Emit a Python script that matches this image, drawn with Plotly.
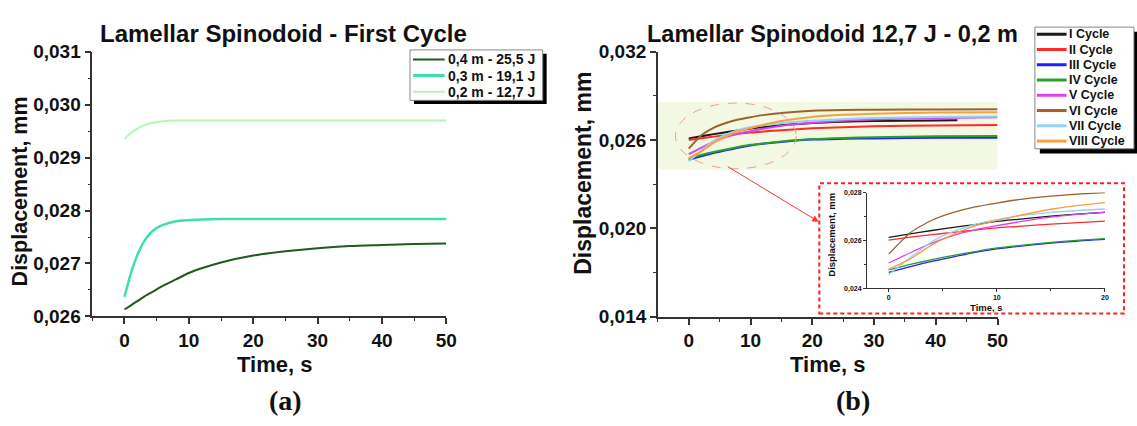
import plotly.graph_objects as go

W, H = 1137, 426

# ---------------- Panel (a): first cycle ----------------
TIME_A = [0, 1, 2, 3, 4, 5, 6, 8, 10, 12, 15, 20, 25, 30, 35, 40, 45, 50]
DISP_04M = [0.02613, 0.02621, 0.02629, 0.02637, 0.02644, 0.02651, 0.02658, 0.02670, 0.02682,
            0.02691, 0.02702, 0.02715, 0.02723, 0.02729, 0.02733, 0.02735, 0.02737, 0.02738]
DISP_03M = [0.02637, 0.02682, 0.02716, 0.02741, 0.02757, 0.02767, 0.02773, 0.02780, 0.02782,
            0.02783, 0.02784, 0.02784, 0.02784, 0.02784, 0.02784, 0.02784, 0.02784, 0.02784]
DISP_02M = [0.02935, 0.02947, 0.02955, 0.02961, 0.02965, 0.02967, 0.02969, 0.02970, 0.02970,
            0.02970, 0.02970, 0.02970, 0.02970, 0.02970, 0.02970, 0.02970, 0.02970, 0.02970]
NAMES_A = ["0,4 m - 25,5 J", "0,3 m - 19,1 J", "0,2 m - 12,7 J"]
COLORS_A = ["#1e5a1e", "#3fe0a5", "#b5f5b5"]

# ---------------- Panel (b): cycles at 12,7 J - 0,2 m ----------------
TIME_B = [0, 2, 4, 6, 8, 10, 12, 15, 20, 25, 30, 40, 50]
TIME_B_I = [0, 2, 4, 6, 8, 10, 12, 15, 20, 25, 30, 40, 43.5]
CYC_I = [0.02612, 0.02627, 0.02641, 0.02654, 0.02666, 0.02679, 0.02688, 0.02701, 0.02717, 0.02725, 0.02730, 0.02734, 0.02735]
CYC_II = [0.02601, 0.02613, 0.02624, 0.02633, 0.02643, 0.02652, 0.02658, 0.02668, 0.02680, 0.02688, 0.02694, 0.02700, 0.02703]
CYC_III = [0.02466, 0.02490, 0.02512, 0.02531, 0.02549, 0.02564, 0.02575, 0.02588, 0.02604, 0.02609, 0.02612, 0.02616, 0.02617]
CYC_IV = [0.02476, 0.02499, 0.02519, 0.02537, 0.02553, 0.02568, 0.02578, 0.02591, 0.02607, 0.02615, 0.02620, 0.02626, 0.02628]
CYC_V = [0.02505, 0.02548, 0.02588, 0.02621, 0.02644, 0.02661, 0.02677, 0.02697, 0.02718, 0.02732, 0.02741, 0.02751, 0.02755]
CYC_VI = [0.02542, 0.02632, 0.02684, 0.02717, 0.02740, 0.02756, 0.02770, 0.02785, 0.02800, 0.02805, 0.02807, 0.02809, 0.02810]
CYC_VII = [0.02456, 0.02528, 0.02594, 0.02637, 0.02667, 0.02687, 0.02702, 0.02717, 0.02731, 0.02742, 0.02750, 0.02757, 0.02760]
CYC_VIII = [0.02478, 0.02522, 0.02581, 0.02625, 0.02660, 0.02682, 0.02703, 0.02730, 0.02758, 0.02772, 0.02780, 0.02787, 0.02790]
NAMES_B = ["I Cycle", "II Cycle", "III Cycle", "IV Cycle", "V Cycle", "VI Cycle", "VII Cycle", "VIII Cycle"]
COLORS_B = ["#1a1a1a", "#ff2a2a", "#1f1fff", "#2aa02a", "#e040f0", "#a0602c", "#90d4f5", "#f8a040"]

FONT = "Liberation Sans, Arial, sans-serif"
SERIF = "Liberation Serif, Times New Roman, serif"
INK = "#111111"
AX = "#333333"


def px(x):
    return x / W


def py(y):
    return 1 - y / H


fig = go.Figure()

# panel (a) traces
for t, y, c, w in zip([TIME_A] * 3, [DISP_04M, DISP_03M, DISP_02M], COLORS_A, [2, 2.5, 2]):
    fig.add_trace(go.Scatter(x=t, y=y, mode="lines", xaxis="x", yaxis="y", showlegend=False,
                             hoverinfo="skip",
                             line=dict(color=c, width=w, shape="spline", smoothing=0.6)))

cyc_times = [TIME_B_I] + [TIME_B] * 7
cyc_vals = [CYC_I, CYC_II, CYC_III, CYC_IV, CYC_V, CYC_VI, CYC_VII, CYC_VIII]
# panel (b) main traces
for t, y, c in zip(cyc_times, cyc_vals, COLORS_B):
    fig.add_trace(go.Scatter(x=t, y=y, mode="lines", xaxis="x2", yaxis="y2", showlegend=False,
                             hoverinfo="skip",
                             line=dict(color=c, width=2, shape="spline", smoothing=0.6)))
# panel (b) inset traces
for t, y, c in zip(cyc_times, cyc_vals, COLORS_B):
    fig.add_trace(go.Scatter(x=t, y=y, mode="lines", xaxis="x3", yaxis="y3", showlegend=False,
                             hoverinfo="skip",
                             line=dict(color=c, width=1.3, shape="spline", smoothing=0.6)))


def axis(domain, anchor, rng, dtick, minor_dtick, tick0, fsize=19, lw=1.5, tlen=6, fmt=None):
    d = dict(domain=domain, anchor=anchor, range=rng, showline=True, linecolor=AX, linewidth=lw,
             ticks="outside", ticklen=tlen, tickwidth=lw, tickcolor=AX, showgrid=False,
             zeroline=False, tick0=tick0, dtick=dtick, tickmode="linear",
             tickfont=dict(family=FONT, size=fsize, color=INK, weight="bold"),
             minor=dict(ticks="outside", ticklen=max(2, tlen // 2), tickwidth=1, tickcolor=AX,
                        dtick=minor_dtick, tick0=tick0, showgrid=False))
    if fmt:
        d["tickformat"] = fmt
    return d


fig.update_layout(
    width=W, height=H, margin=dict(l=0, r=0, t=0, b=0),
    paper_bgcolor="white", plot_bgcolor="rgba(0,0,0,0)",
    separators=", ", showlegend=False,
    xaxis=axis([px(93.2), px(450.7)], "y", [-5, 50], 10, 5, 0),
    yaxis=axis([py(322.3), py(44)], "x", [0.026, 0.031], 0.001, 0.0005, 0.026, fmt=".3f"),
    xaxis2=axis([px(664.3), px(1007.3)], "y2", [-5, 50], 10, 5, 0),
    yaxis2=axis([py(322.7), py(44)], "x2", [0.014, 0.032], 0.006, 0.003, 0.014, fmt=".3f"),
    xaxis3=axis([px(875.5), px(1115.7)], "y3", [-2, 20], 10, 5, 0, fsize=7, lw=1, tlen=3),
    yaxis3=axis([py(292.5), py(192)], "x3", [0.024, 0.028], 0.002, 0.001, 0.024, fsize=7, lw=1,
                tlen=3, fmt=".3f"),
)

shapes = []
# highlighted band and ellipse in panel (b)
shapes.append(dict(type="rect", xref="x2", yref="y2", x0=-5, x1=50, y0=0.024, y1=0.0286,
                   fillcolor="#f2f8e2", line=dict(width=0), layer="below"))
shapes.append(dict(type="circle", xref="x2", yref="y2", x0=-2.15, x1=17.4, y0=0.02406, y1=0.02852,
                   line=dict(color="#f29a9a", width=1, dash="dash"), layer="above"))
# inset frame
shapes.append(dict(type="rect", xref="paper", yref="paper", x0=px(827.3), x1=px(1135), y0=py(319.3),
                   y1=py(182.3), line=dict(color="#ff2020", width=2, dash="4px,3px"), layer="above"))

# legend (a)
shapes.append(dict(type="rect", xref="paper", yref="paper", x0=px(418), x1=px(552), y0=py(99), y1=py(46),
                   fillcolor="black", line=dict(width=0), layer="above"))
shapes.append(dict(type="rect", xref="paper", yref="paper", x0=px(414), x1=px(548), y0=py(95), y1=py(42),
                   fillcolor="white", line=dict(color="#888888", width=1), layer="above"))
leg_a_y = [52, 69, 86]
for yy, c, w in zip(leg_a_y, COLORS_A, [2, 3, 2]):
    shapes.append(dict(type="line", xref="paper", yref="paper", x0=px(417), x1=px(449), y0=py(yy), y1=py(yy),
                       line=dict(color=c, width=w), layer="above"))

# legend (b)
shapes.append(dict(type="rect", xref="paper", yref="paper", x0=px(1050), x1=px(1150), y0=py(151), y1=py(23),
                   fillcolor="black", line=dict(width=0), layer="above"))
shapes.append(dict(type="rect", xref="paper", yref="paper", x0=px(1045), x1=px(1145), y0=py(146), y1=py(18),
                   fillcolor="white", line=dict(color="#888888", width=1), layer="above"))
leg_b_y = [25.5 + 16.05 * i for i in range(len(NAMES_B))]
for yy, c in zip(leg_b_y, COLORS_B):
    shapes.append(dict(type="line", xref="paper", yref="paper", x0=px(1047), x1=px(1077), y0=py(yy), y1=py(yy),
                       line=dict(color=c, width=3), layer="above"))

fig.update_layout(shapes=shapes)


def text(x, y, s, size, angle=0, family=FONT, xanchor="center", bold=True):
    fig.add_annotation(x=px(x), y=py(y), xref="paper", yref="paper", text=s, showarrow=False,
                       textangle=angle, xanchor=xanchor, yanchor="middle", borderpad=0,
                       font=dict(family=family, size=size, color=INK, weight="bold" if bold else "normal"))


# titles
text(286, 25, "Lamellar Spinodoid - First Cycle", 24)
text(840.5, 25, "Lamellar Spinodoid 12,7 J - 0,2 m", 23.5)
# axis titles
text(20, 191, "Displacement, mm", 21.5, angle=-90)
text(588, 172, "Displacement, mm", 23, angle=-90)
text(277, 373, "Time, s", 22)
text(836, 373, "Time, s", 22)
# panel letters
text(288, 411, "(a)", 28, family=SERIF)
text(861, 411, "(b)", 28, family=SERIF)
# inset axis titles
text(840, 236.5, "Displacement, mm", 9.5, angle=-90)
text(995.7, 312.5, "Time, s", 9.5)

# legend texts
for yy, s in zip(leg_a_y, NAMES_A):
    text(451, yy, s, 14, xanchor="left")
for yy, s in zip(leg_b_y, NAMES_B):
    text(1078, yy, s, 12.5, xanchor="left")

# arrow from the ellipse to the inset
fig.add_annotation(x=px(826.7), y=py(222.7), xref="paper", yref="paper", ax=-92.4, ay=-56,
                   axref="pixel", ayref="pixel", showarrow=True, arrowhead=2, arrowsize=1.3,
                   arrowwidth=1, arrowcolor="#ff3333", text="")

fig.write_html("out.html")
